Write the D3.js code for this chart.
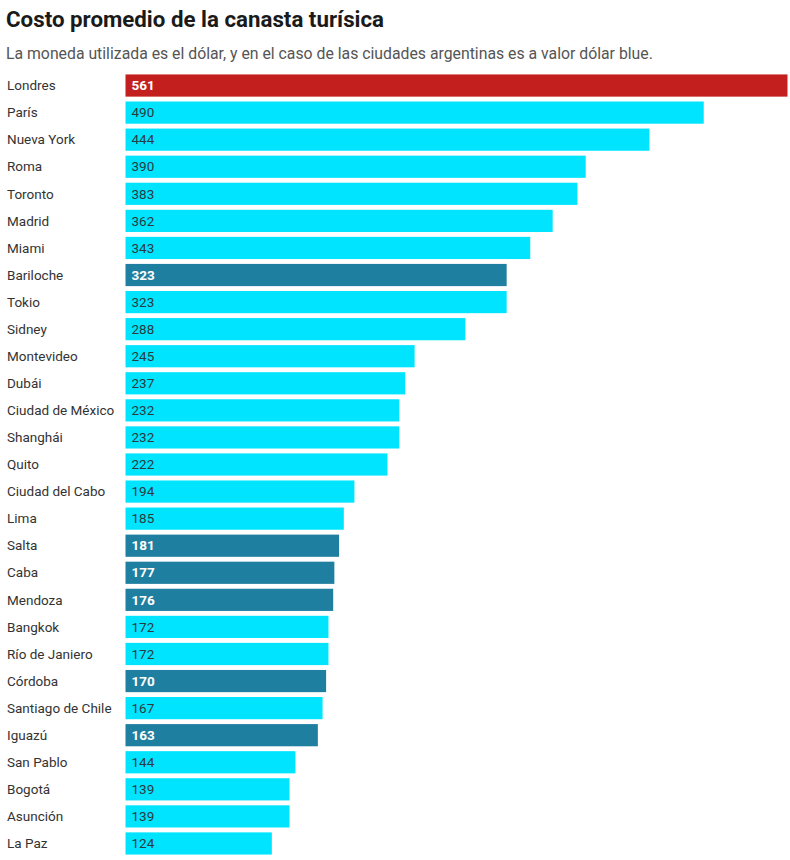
<!DOCTYPE html>
<html>
<head>
<meta charset="utf-8">
<script src="https://cdn.jsdelivr.net/npm/d3@7"></script>
<style>
    body { margin: 0; background: #fff; font-family: Roboto, 'Noto Sans', sans-serif; }
    svg { display: block; }
</style>
</head>
<body>
<svg id="chart" width="790" height="860"></svg>
<script>
const cities = ['Londres', 'París', 'Nueva York', 'Roma', 'Toronto', 'Madrid', 'Miami', 'Bariloche', 'Tokio', 'Sidney',
    'Montevideo', 'Dubái', 'Ciudad de México', 'Shanghái', 'Quito', 'Ciudad del Cabo', 'Lima', 'Salta', 'Caba', 'Mendoza',
    'Bangkok', 'Río de Janiero', 'Córdoba', 'Santiago de Chile', 'Iguazú', 'San Pablo', 'Bogotá', 'Asunción', 'La Paz']
const costs = [561, 490, 444, 390, 383, 362, 343, 323, 323, 288,
    245, 237, 232, 232, 222, 194, 185, 181, 177, 176,
    172, 172, 170, 167, 163, 144, 139, 139, 124]
// 'top' = el más caro, 'ar' = ciudades argentinas, 'other' = resto
const groups = ['top', 'other', 'other', 'other', 'other', 'other', 'other', 'ar', 'other', 'other',
    'other', 'other', 'other', 'other', 'other', 'other', 'other', 'ar', 'ar', 'ar',
    'other', 'other', 'ar', 'other', 'ar', 'other', 'other', 'other', 'other']

const title = 'Costo promedio de la canasta turísica'
const subtitle = 'La moneda utilizada es el dólar, y en el caso de las ciudades argentinas es a valor dólar blue.'

const colors = { top: '#c41f1f', ar: '#1f7fa0', other: '#00e4ff' }

const rows = cities.map((city, i) => ({ city, cost: costs[i], group: groups[i] }))

const svg = d3.select('#chart')

svg.append('text')
    .attr('x', 6).attr('y', 27)
    .attr('font-size', 22.3).attr('font-weight', 700).attr('fill', '#1a1a1a')
    .text(title)

svg.append('text')
    .attr('x', 6).attr('y', 59)
    .attr('font-size', 15.8).attr('fill', '#555')
    .text(subtitle)

const x = d3.scaleLinear().domain([0, 561]).range([125.5, 787.5])
const y = d3.scaleBand().domain(cities).range([72, 857]).paddingInner(0.18).paddingOuter(0.09)

const row = svg.append('g').selectAll('g')
    .data(rows)
    .join('g')
    .attr('transform', d => `translate(0, ${y(d.city)})`)

row.append('text')
    .attr('x', 7)
    .attr('y', y.bandwidth() / 2)
    .attr('dy', '0.35em')
    .attr('font-size', 13.5).attr('fill', '#333')
    .text(d => d.city)

row.append('rect')
    .attr('x', x(0))
    .attr('width', d => x(d.cost) - x(0))
    .attr('height', y.bandwidth())
    .attr('fill', d => colors[d.group])

row.append('text')
    .attr('x', x(0) + 6)
    .attr('y', y.bandwidth() / 2)
    .attr('dy', '0.35em')
    .attr('font-size', 13.5)
    .attr('font-weight', d => d.group === 'other' ? 400 : 700)
    .attr('fill', d => d.group === 'other' ? '#2a3a40' : '#fff')
    .text(d => d.cost)
</script>
</body>
</html>
